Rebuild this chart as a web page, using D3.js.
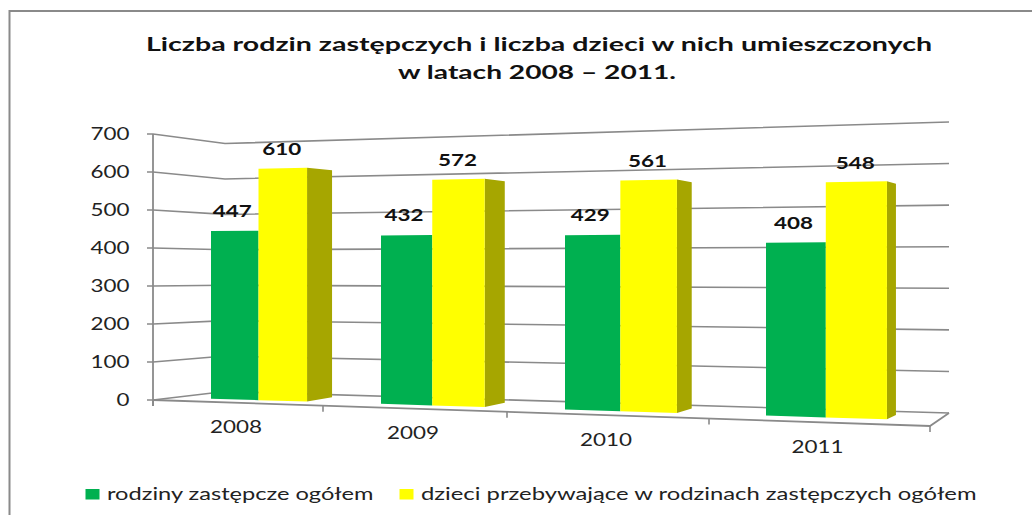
<!DOCTYPE html>
<html>
<head>
<meta charset="utf-8">
<script src="https://d3js.org/d3.v7.min.js"></script>
<style>
  html, body { margin: 0; background: #fff; }
  text { font-family: Lato, "Open Sans", sans-serif; }
</style>
</head>
<body>
<svg id="chart" width="1032" height="515"></svg>
<script>
const years = ["2008", "2009", "2010", "2011"];
const rodziny = [447, 432, 429, 408];
const dzieci = [610, 572, 561, 548];
const yTicks = [0, 100, 200, 300, 400, 500, 600, 700];
const seriesNames = ["rodziny zastępcze ogółem", "dzieci przebywające w rodzinach zastępczych ogółem"];
const titleLines = ["Liczba rodzin zastępczych i liczba dzieci w nich umieszczonych", "w latach 2008 – 2011."];

const svg = d3.select("#chart");
const gridColor = "#8a8a8a";
const greenColor = "#00b050", yellowColor = "#ffff00", sideColor = "#a6a600";

// the picture is a fake 3D chart, so each wall gets its own value scale
const yFrontLeft = d3.scaleLinear().domain([0, 700]).range([400, 134]);
const yCorner = d3.scaleLinear().domain([0, 700]).range([391.5, 143.5]);
const yRight = d3.scaleLinear().domain([0, 700]).range([413, 122]);
const xFrontLeft = 153, xCorner = 225, xRight = 949;

// bars stand on a slanted plane and get taller towards the right
const barLeft = d3.scaleLinear().domain([0, 1, 2, 3]).range([211, 381, 565, 766]);
const barWidth = d3.scaleLinear().domain([211, 888]).range([47.5, 62.5]);
const barBase = d3.scaleLinear().domain([211, 888]).range([398.7, 419.3]);
const barUnit = d3.scaleLinear().domain([211, 888]).range([0.375, 0.4345]);
const barTop = (x, v) => barBase(x) - barUnit(x) * v;
const sideDepth = d3.scaleLinear().domain([307, 888]).range([25, 9]);

// floor ticks along the front edge
const floorX = d3.scaleLinear().domain([0, 1, 2, 3, 4]).range([153, 323, 507, 709, 930]);
const floorY = d3.scaleLinear().domain([153, 930]).range([400, 426]);

const line = d3.line();

// frame, open on the right and at the bottom
svg.append("path")
    .attr("d", "M9.5,515V11H1032")
    .attr("fill", "none")
    .attr("stroke", "#8a8a8a")
    .attr("stroke-width", 2);

// grid lines on both walls
svg.append("g").selectAll("path")
    .data(yTicks)
    .join("path")
    .attr("d", d => line([[xFrontLeft - 6, yFrontLeft(d)], [xFrontLeft, yFrontLeft(d)], [xCorner, yCorner(d)], [xRight, yRight(d)]]))
    .attr("fill", "none")
    .attr("stroke", gridColor)
    .attr("stroke-width", 1.6);

// left axis
svg.append("path")
    .attr("d", line([[xFrontLeft, yFrontLeft(700)], [xFrontLeft, yFrontLeft(0) + 6]]))
    .attr("stroke", gridColor)
    .attr("stroke-width", 1.8);

// floor front edge, its ticks and the closing right edge
svg.append("path")
    .attr("d", line([[xFrontLeft, yFrontLeft(0)], [floorX(4), floorY(floorX(4))], [xRight, yRight(0)]]))
    .attr("fill", "none")
    .attr("stroke", gridColor)
    .attr("stroke-width", 1.8);

svg.append("g").selectAll("path")
    .data(d3.range(5))
    .join("path")
    .attr("d", i => line([[floorX(i), floorY(floorX(i))], [floorX(i), floorY(floorX(i)) + 6]]))
    .attr("stroke", gridColor)
    .attr("stroke-width", 1.6);

svg.append("g").selectAll("text")
    .data(yTicks)
    .join("text")
    .attr("x", 129.5)
    .attr("y", d => yFrontLeft(d) + 6)
    .attr("text-anchor", "end")
    .attr("font-size", 17)
    .attr("fill", "#222")
    .attr("textLength", d => d ? 39 : 13)
    .attr("lengthAdjust", "spacingAndGlyphs")
    .text(d => d);

// bars
years.forEach((year, i) => {
    const x0 = barLeft(i);
    const x1 = x0 + barWidth(x0);
    const x2 = x1 + barWidth(x1);
    const depth = sideDepth(x2);

    svg.append("path")
        .attr("d", line([[x2, barTop(x2, dzieci[i])], [x2 + depth, barTop(x2, dzieci[i]) + 2.6], [x2 + depth, barBase(x2) - 4.3], [x2, barBase(x2)]]) + "Z")
        .attr("fill", sideColor);
    svg.append("path")
        .attr("d", line([[x0, barTop(x0, rodziny[i])], [x1, barTop(x1, rodziny[i])], [x1, barBase(x1)], [x0, barBase(x0)]]) + "Z")
        .attr("fill", greenColor);
    svg.append("path")
        .attr("d", line([[x1, barTop(x1, dzieci[i])], [x2, barTop(x2, dzieci[i])], [x2, barBase(x2)], [x1, barBase(x1)]]) + "Z")
        .attr("fill", yellowColor);

    svg.append("text")
        .attr("x", (x0 + x1) / 2 - 2.5)
        .attr("y", barTop(x0, rodziny[i]) - 14)
        .attr("text-anchor", "middle")
        .attr("font-size", 17)
        .attr("font-weight", 700)
        .attr("fill", "#111")
        .attr("textLength", 39)
        .attr("lengthAdjust", "spacingAndGlyphs")
        .text(rodziny[i]);
    svg.append("text")
        .attr("x", (x1 + x2) / 2 - 1)
        .attr("y", barTop(x1, dzieci[i]) - 13.5)
        .attr("text-anchor", "middle")
        .attr("font-size", 17)
        .attr("font-weight", 700)
        .attr("fill", "#111")
        .attr("textLength", 39)
        .attr("lengthAdjust", "spacingAndGlyphs")
        .text(dzieci[i]);

    const labelX = (floorX(i) + floorX(i + 1)) / 2;
    svg.append("text")
        .attr("x", labelX - 2)
        .attr("y", floorY(labelX) + 30.5)
        .attr("text-anchor", "middle")
        .attr("font-size", 17)
        .attr("fill", "#222")
        .attr("textLength", 52)
        .attr("lengthAdjust", "spacingAndGlyphs")
        .text(year);
});

// title, stretched to the width it has in the picture
const titleX = [146, 398];
const titleY = [51, 78.5];
const titleWidths = [786, 278];
svg.append("g").selectAll("text")
    .data(titleLines)
    .join("text")
    .attr("x", (d, i) => titleX[i])
    .attr("y", (d, i) => titleY[i])
    .attr("font-size", 19)
    .attr("font-weight", 700)
    .attr("fill", "#111")
    .attr("textLength", (d, i) => titleWidths[i])
    .attr("lengthAdjust", "spacingAndGlyphs")
    .text(d => d);

// legend
const legendX = [85.5, 399.5];
const legendWidths = [288, 577];
const legend = svg.append("g").selectAll("g")
    .data(seriesNames)
    .join("g")
    .attr("transform", (d, i) => `translate(${legendX[i]},0)`);
legend.append("rect")
    .attr("y", 489)
    .attr("width", 14)
    .attr("height", 10.5)
    .attr("fill", (d, i) => i ? yellowColor : greenColor);
legend.append("text")
    .attr("x", 21.5)
    .attr("y", 500)
    .attr("font-size", 17)
    .attr("fill", "#222")
    .attr("textLength", (d, i) => legendWidths[i] - 21.5)
    .attr("lengthAdjust", "spacingAndGlyphs")
    .text(d => d);
</script>
</body>
</html>
